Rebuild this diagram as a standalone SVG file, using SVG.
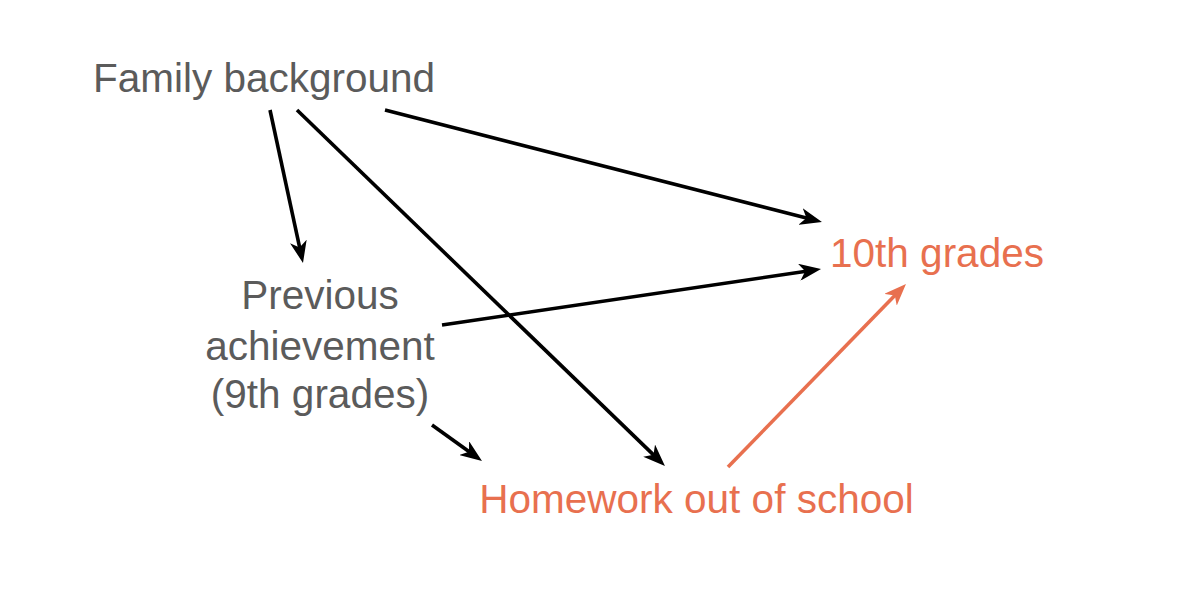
<svg xmlns="http://www.w3.org/2000/svg" width="1180" height="606" viewBox="0 0 1180 606">
<style>
text{font-family:"Liberation Sans",Arial,Helvetica,sans-serif;font-size:40.5px}
.g{fill:#5b5b5b}
.o{fill:#E8704F}
.k{stroke:#000;stroke-width:3.6;fill:none}
.ko{stroke:#E8704F;stroke-width:3.6;fill:none}
</style>
<defs>
<marker id="ah" markerUnits="userSpaceOnUse" viewBox="0 0 22 17" markerWidth="22" markerHeight="17" refX="14" refY="8.5" orient="auto"><path d="M0,0 L22,8.5 L0,17 L6,8.5 z" fill="#000"/></marker>
<marker id="aho" markerUnits="userSpaceOnUse" viewBox="0 0 22 17" markerWidth="22" markerHeight="17" refX="14" refY="8.5" orient="auto"><path d="M0,0 L22,8.5 L0,17 L6,8.5 z" fill="#E8704F"/></marker>
</defs>
<rect width="1180" height="606" fill="#fff"/>
<g id="connectors">
<line class="k" x1="270" y1="110" x2="301.3" y2="255.2" marker-end="url(#ah)"/>
<line class="k" x1="297" y1="110" x2="659.2" y2="460.4" marker-end="url(#ah)"/>
<line class="k" x1="385" y1="110" x2="814.2" y2="220" marker-end="url(#ah)"/>
<line class="k" x1="442" y1="325" x2="813.1" y2="270.2" marker-end="url(#ah)"/>
<line class="k" x1="432" y1="425" x2="475.5" y2="456.3" marker-end="url(#ah)"/>
<line class="ko" x1="728" y1="467" x2="900.4" y2="289.7" marker-end="url(#aho)"/>
</g>
<g id="family"><text class="g" x="264" y="92" text-anchor="middle">Family background</text></g>
<g id="previous">
<text class="g" x="320" y="309" text-anchor="middle">Previous</text>
<text class="g" x="320" y="360" text-anchor="middle">achievement</text>
<text class="g" x="320" y="408" text-anchor="middle">(9th grades)</text>
</g>
<g id="tenth"><text class="o" x="937" y="267" text-anchor="middle">10th grades</text></g>
<g id="homework"><text class="o" x="696.5" y="513" text-anchor="middle">Homework out of school</text></g>
</svg>
